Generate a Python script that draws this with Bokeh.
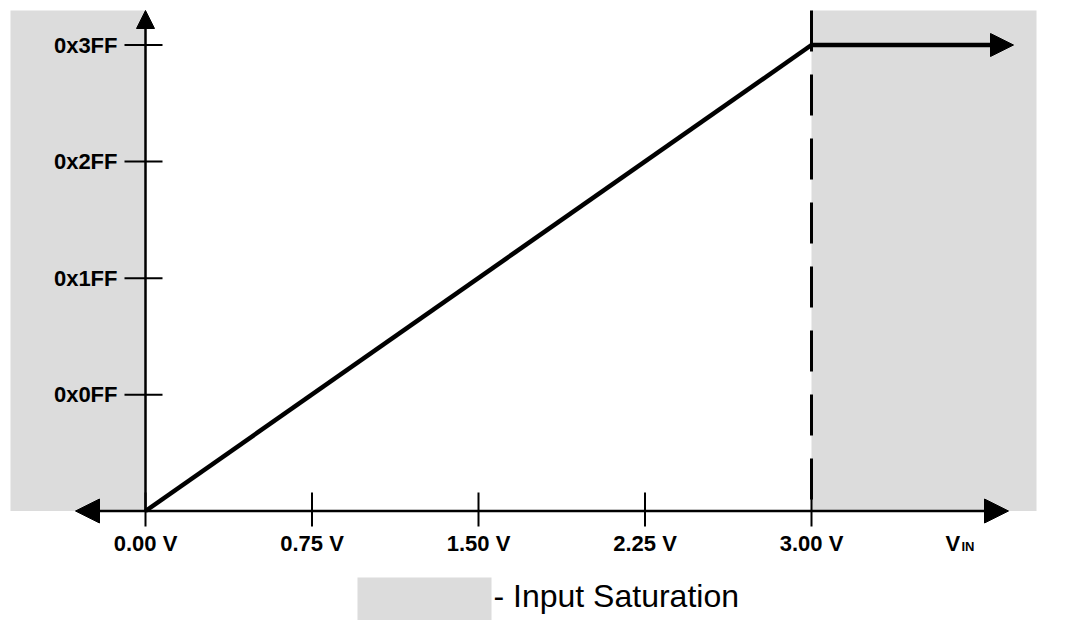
from bokeh.plotting import figure
from bokeh.models import Range1d, Arrow, NormalHead, ColumnDataSource
from bokeh.core.properties import value
from bokeh.embed import file_html
from bokeh.resources import INLINE

# ---- data ----
volt_ticks = [0.00, 0.75, 1.50, 2.25, 3.00]
volt_labels = ["0.00 V", "0.75 V", "1.50 V", "2.25 V", "3.00 V"]
code_ticks = [0x0FF, 0x1FF, 0x2FF, 0x3FF]
code_labels = ["0x0FF", "0x1FF", "0x2FF", "0x3FF"]
transfer_v = [0.00, 3.00]
transfer_code = [0, 0x3FF]
sat_v = 3.00
full_scale = 0x3FF
legend_text = "- Input Saturation"

# ---- layout (pixel scales) ----
W, H = 1065, 620
PX_V = 222.0            # pixels per volt
PX_C = 466.0 / 1023.0   # pixels per code
ox, oy = 145.0, 620 - 510.5   # origin in canvas px (from left, from bottom)

def dx(px):
    return px / PX_V

def dy(px):
    return px / PX_C

p = figure(width=W, height=H, output_backend="svg", toolbar_location=None,
           x_axis_type=None, y_axis_type=None,
           x_range=Range1d(-dx(ox), dx(W - ox)),
           y_range=Range1d(-dy(oy), dy(H - oy)),
           min_border=0)
p.outline_line_color = None
p.background_fill_color = "white"
p.border_fill_color = "white"

GRAY = "#dcdcdc"
top_c = dy(500.5)

# saturation regions
p.quad(left=[-dx(135)], right=[0], bottom=[0], top=[top_c], fill_color=GRAY, line_color=None)
p.quad(left=[sat_v], right=[dx(891)], bottom=[0], top=[top_c], fill_color=GRAY, line_color=None)

# dashed line at saturation voltage
p.segment(x0=[sat_v], y0=[top_c], x1=[sat_v], y1=[0], line_color="black",
          line_width=3, line_dash="41 23")

# x axis (double arrow)
p.add_layout(Arrow(x_start=-dx(70), y_start=0, x_end=dx(863), y_end=0,
                   line_width=2.5, line_color="black",
                   start=NormalHead(size=24, fill_color="black", line_color="black"),
                   end=NormalHead(size=24, fill_color="black", line_color="black")))
# y axis
p.add_layout(Arrow(x_start=0, y_start=0, x_end=0, y_end=top_c,
                   line_width=2.5, line_color="black",
                   end=NormalHead(size=18, fill_color="black", line_color="black")))

# ticks
p.segment(x0=[-dx(21)] * len(code_ticks), x1=[dx(17)] * len(code_ticks),
          y0=code_ticks, y1=code_ticks, line_color="black", line_width=2)
p.segment(x0=volt_ticks, x1=volt_ticks, y0=[-dy(15.5)] * len(volt_ticks),
          y1=[dy(18.5)] * len(volt_ticks), line_color="black", line_width=2)

# transfer line
p.line(transfer_v, transfer_code, line_color="black", line_width=4.5)
p.add_layout(Arrow(x_start=sat_v, y_start=full_scale, x_end=dx(868), y_end=full_scale,
                   line_width=4.5, line_color="black",
                   end=NormalHead(size=23, fill_color="black", line_color="black")))

FONT = value("Liberation Sans")

# tick labels
ysrc = ColumnDataSource(dict(x=[-dx(28)] * len(code_ticks), y=code_ticks, t=code_labels))
p.text(x="x", y="y", text="t", source=ysrc, text_font=FONT, text_font_style="bold",
       text_font_size="22px", text_align="right", text_baseline="middle", text_color="black")
xsrc = ColumnDataSource(dict(x=volt_ticks, y=[-dy(32.5)] * len(volt_ticks), t=volt_labels))
p.text(x="x", y="y", text="t", source=xsrc, text_font=FONT, text_font_style="bold",
       text_font_size="22px", text_align="center", text_baseline="middle", text_color="black")

# V_IN label
p.text(x=[dx(800)], y=[-dy(32.5)], text=["V"], text_font=FONT, text_font_style="bold",
       text_font_size="22px", text_align="left", text_baseline="middle", text_color="black")
p.text(x=[dx(816)], y=[-dy(35)], text=["IN"], text_font=FONT, text_font_style="bold",
       text_font_size="13px", text_align="left", text_baseline="middle", text_color="black")

# legend
p.quad(left=[dx(212)], right=[dx(346)], top=[-dy(66.5)], bottom=[-dy(115)],
       fill_color=GRAY, line_color=None)
p.text(x=[dx(348)], y=[-dy(84.5)], text=[legend_text], text_font=FONT,
       text_font_size="32px", text_align="left", text_baseline="middle", text_color="black")

open("out.html", "w").write(file_html(p, INLINE))
